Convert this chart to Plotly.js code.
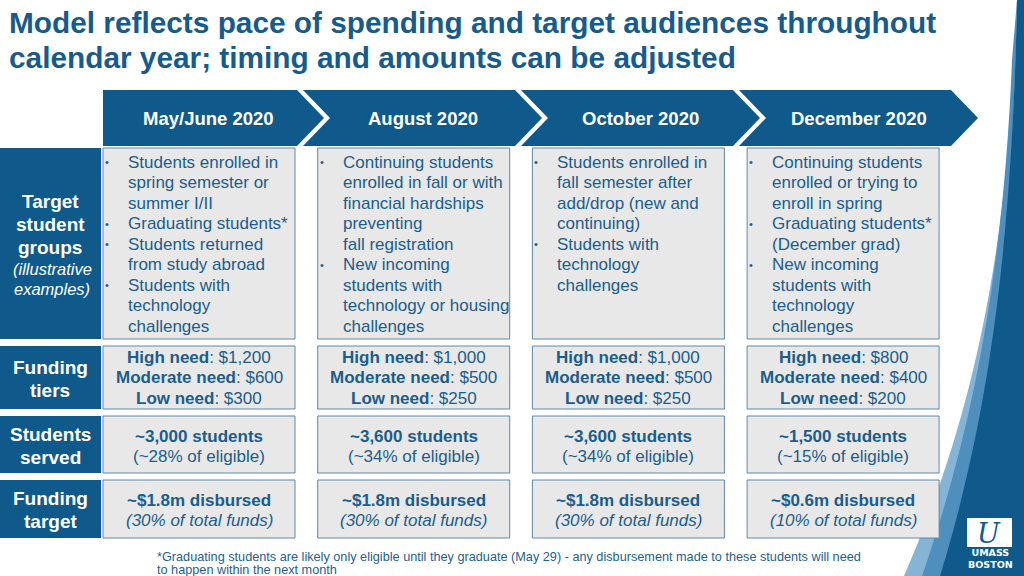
<!DOCTYPE html>
<html>
<head>
<meta charset="utf-8">
<script src="https://cdn.plot.ly/plotly-3.0.1.min.js"></script>
<style>html,body{margin:0;padding:0;background:#fff;}#chart{width:1024px;height:576px;}</style>
</head>
<body>
<div id="chart"></div>
<script>
// ---------- data ----------
const titleLines = ["Model reflects pace of spending and target audiences throughout",
                    "calendar year; timing and amounts can be adjusted"];
const months = ["May/June 2020", "August 2020", "October 2020", "December 2020"];
const rowLabelsBold = [["Target", "student", "groups"], ["Funding", "tiers"], ["Students", "served"], ["Funding", "target"]];
const rowLabelsItalic = [["(illustrative", "examples)"], [], [], []];
const targetGroups = [
  [["Students enrolled in", "spring semester or", "summer I/II"], ["Graduating students*"], ["Students returned", "from study abroad"], ["Students with", "technology", "challenges"]],
  [["Continuing students", "enrolled in fall or with", "financial hardships", "preventing", "fall registration"], ["New incoming", "students with", "technology or housing", "challenges"]],
  [["Students enrolled in", "fall semester after", "add/drop (new and", "continuing)"], ["Students with", "technology", "challenges"]],
  [["Continuing students", "enrolled or trying to", "enroll in spring"], ["Graduating students*", "(December grad)"], ["New incoming", "students with", "technology", "challenges"]]
];
const tierNames = ["High need", "Moderate need", "Low need"];
const highNeed = [1200, 1000, 1000, 800];
const moderateNeed = [600, 500, 500, 400];
const lowNeed = [300, 250, 250, 200];
const studentsServed = [3000, 3600, 3600, 1500];
const pctEligible = [28, 34, 34, 15];
const fundsDisbursedM = [1.8, 1.8, 1.8, 0.6];
const pctOfFunds = [30, 30, 30, 10];
const footnoteLines = ["*Graduating students are likely only eligible until they graduate (May 29) - any disbursement made to these students will need",
                       "to happen within the next month"];

// ---------- style ----------
const DARK = "#0f5a8b";
const TEXT = "#1b5d8d";
const BOXFILL = "#e8e8e8";
const BOXLINE = "#5f88aa";
const FONT = "Liberation Sans, Arial, sans-serif";

const shapes = [];
const ann = [];
function txt(x, y, t, o) {
  o = o || {};
  ann.push({x: x, y: y, xref: "x", yref: "y", text: t, showarrow: false,
    xanchor: o.xa || "center", yanchor: "middle",
    font: {family: o.family || FONT, size: o.size || 17, color: o.color || TEXT}});
}

// title
titleLines.forEach((t, i) => txt(7, 22 + 35 * i, "<b>" + t + "</b>", {xa: "left", size: 29.8, color: "#175b8d"}));

// right decoration
shapes.push({type: "path", xref: "x", yref: "y", layer: "below",
  path: "M 1015 40 C 1006 260, 972 420, 904 576 L 950 576 C 990 420, 1012 250, 1017 0 Z",
  fillcolor: "#86b4d5", line: {width: 0}});
shapes.push({type: "path", xref: "x", yref: "y", layer: "below",
  path: "M 1012 60 C 1004 260, 976 420, 922 576 L 950 576 C 990 420, 1012 250, 1017 0 Z",
  fillcolor: "#4f8fbe", line: {width: 0}});
shapes.push({type: "path", xref: "x", yref: "y", layer: "below",
  path: "M 1017 0 C 1012 250, 988 420, 940 576 L 1024 576 L 1024 0 Z",
  fillcolor: DARK, line: {width: 0}});
// logo
shapes.push({type: "rect", xref: "x", yref: "y", x0: 967, x1: 1012, y0: 518, y1: 547, fillcolor: "#ffffff", line: {width: 0}});
txt(989, 533, "<i>U</i>", {family: "DejaVu Serif, serif", size: 27, color: DARK});
txt(990, 558, "<b>UMASS<br>BOSTON</b>", {size: 9.5, color: "#ffffff", family: "DejaVu Sans, sans-serif"});

// chevrons
const P = 218, firstRight = 297, tipW = 27, gap = 6, cTop = 90, cBot = 146, cMid = 118;
months.forEach((m, i) => {
  const right = firstRight + P * i, tip = right + tipW;
  const left = i === 0 ? 103 : firstRight + P * (i - 1) + gap;
  const notch = i === 0 ? 103 : firstRight + P * (i - 1) + tipW + gap;
  shapes.push({type: "path", xref: "x", yref: "y",
    path: `M ${left} ${cTop} L ${right} ${cTop} L ${tip} ${cMid} L ${right} ${cBot} L ${left} ${cBot} L ${notch} ${cMid} Z`,
    fillcolor: DARK, line: {width: 0}});
  txt(i === 0 ? 208 : (left + right) / 2 + 13.5, cMid, "<b>" + m + "</b>", {size: 18.5, color: "#ffffff"});
});

// rows
const rows = [[148, 339], [346, 409], [416, 473], [480, 538]];
const colX0 = 103, colP = 214.7, colW = 192;
rows.forEach((r, ri) => {
  shapes.push({type: "rect", xref: "x", yref: "y", x0: 0, x1: 101, y0: r[0], y1: r[1], fillcolor: DARK, line: {width: 0}});
  for (let c = 0; c < 4; c++) {
    const x0 = colX0 + colP * c;
    shapes.push({type: "rect", xref: "x", yref: "y", x0: x0, x1: x0 + colW, y0: r[0], y1: r[1],
      fillcolor: BOXFILL, line: {color: BOXLINE, width: 1}});
  }
});

// left labels
const labelStarts = [201, 367, 434, 498];
rowLabelsBold.forEach((ls, ri) => {
  ls.forEach((l, j) => txt(50, labelStarts[ri] + 23 * j, "<b>" + l + "</b>", {size: 19, color: "#ffffff"}));
  rowLabelsItalic[ri].forEach((l, j) => txt(52, labelStarts[ri] + 23 * ls.length - 1 + 20 * j, "<i>" + l + "</i>", {size: 16.5, color: "#ffffff"}));
});

// row 1: target groups
targetGroups.forEach((groups, c) => {
  const x0 = colX0 + colP * c;
  let line = 0;
  groups.forEach(g => {
    txt(x0 + 4, 162 + 20.5 * line, "•", {size: 11, xa: "center"});
    g.forEach(l => { txt(x0 + 23, 162 + 20.5 * line, l, {xa: "left"}); line++; });
  });
});

// rows 2-4
const money = v => "$" + v.toLocaleString("en-US");
months.forEach((m, c) => {
  const cx = colX0 + colP * c + colW / 2;
  const tiers = [highNeed[c], moderateNeed[c], lowNeed[c]];
  tiers.forEach((v, k) => txt(cx, 357 + 20.5 * k, "<b>" + tierNames[k] + "</b>: " + money(v)));
  txt(cx, 436, "<b>~" + studentsServed[c].toLocaleString("en-US") + " students</b>");
  txt(cx, 456, "(~" + pctEligible[c] + "% of eligible)");
  txt(cx, 500, "<b>~$" + fundsDisbursedM[c].toFixed(1) + "m disbursed</b>");
  txt(cx, 520, "<i>(" + pctOfFunds[c] + "% of total funds)</i>");
});

// footnote
footnoteLines.forEach((l, i) => txt(155, 557 + 12.5 * i, l, {xa: "left", size: 12.7, color: "#1f6090"}));

const layout = {
  width: 1024, height: 576,
  margin: {l: 0, r: 0, t: 0, b: 0},
  paper_bgcolor: "#ffffff", plot_bgcolor: "#ffffff",
  xaxis: {range: [0, 1024], visible: false, fixedrange: true},
  yaxis: {range: [576, 0], visible: false, fixedrange: true},
  showlegend: false,
  shapes: shapes,
  annotations: ann
};
Plotly.newPlot("chart", [{x: [], y: [], type: "scatter"}], layout, {staticPlot: true, displayModeBar: false});
</script>
</body>
</html>
